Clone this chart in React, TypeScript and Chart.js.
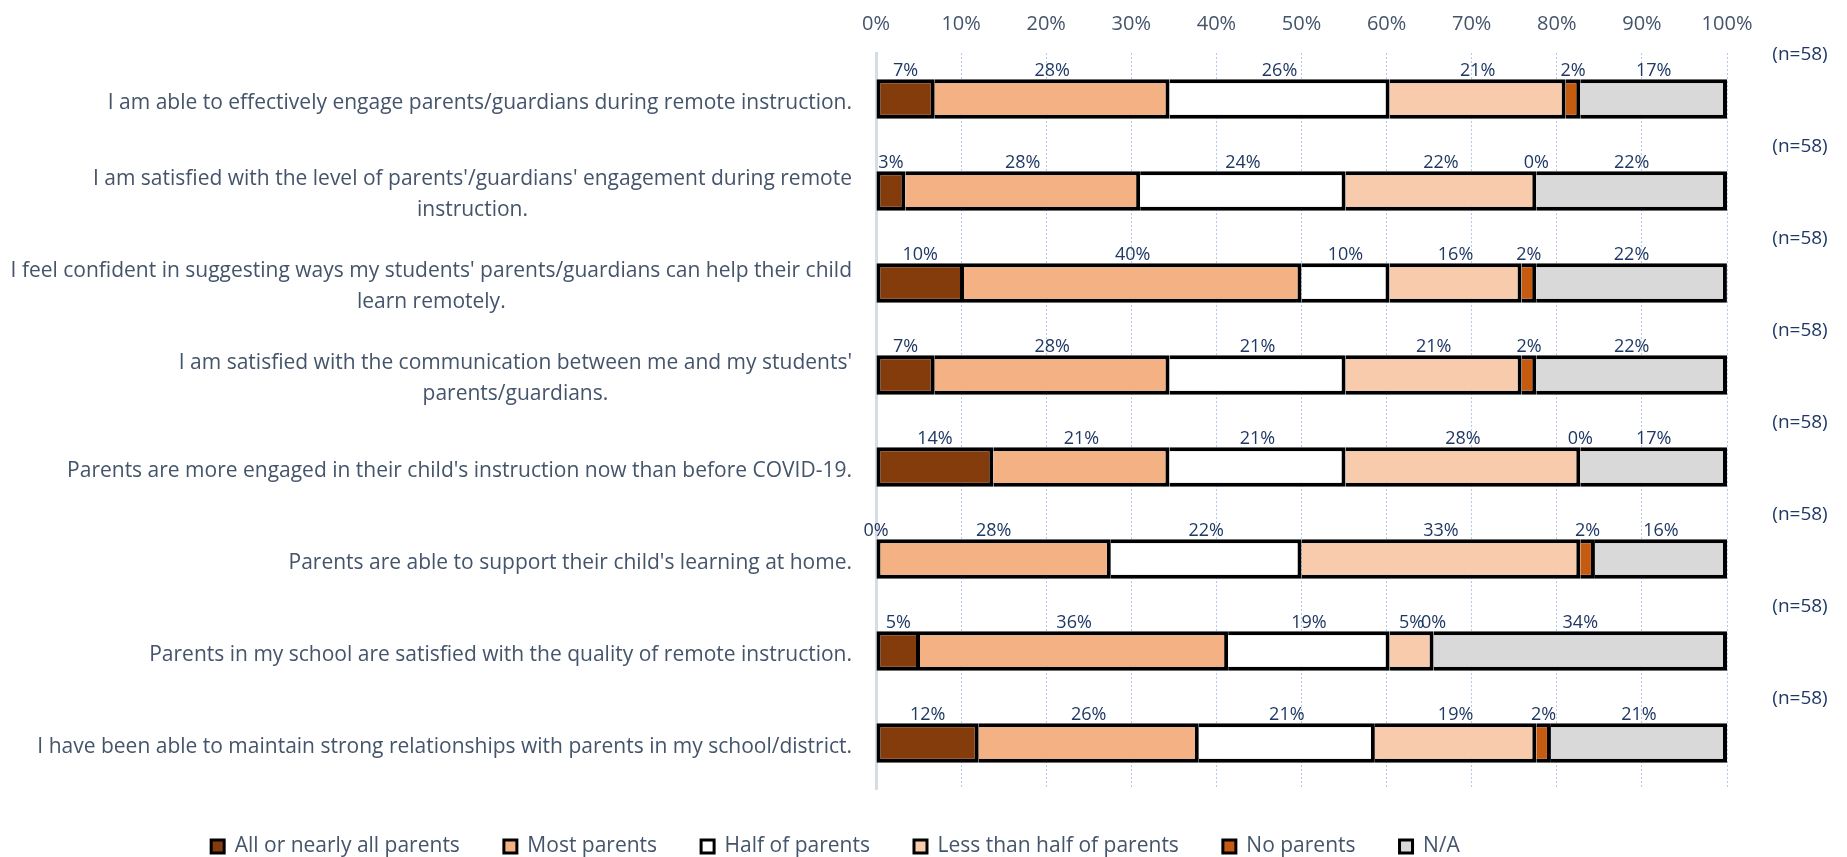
import React, { useEffect, useRef } from "react";
import { Chart, registerables } from "chart.js";

Chart.register(...registerables);

// ---------- data ----------
const categories: string[][] = [
  ["I am able to effectively engage parents/guardians during remote instruction."],
  ["I am satisfied with the level of parents'/guardians' engagement during remote", "instruction."],
  ["I feel confident in suggesting ways my students' parents/guardians can help their child", "learn remotely."],
  ["I am satisfied with the communication between me and my students'", "parents/guardians."],
  ["Parents are more engaged in their child's instruction now than before COVID-19."],
  ["Parents are able to support their child's learning at home."],
  ["Parents in my school are satisfied with the quality of remote instruction."],
  ["I have been able to maintain strong relationships with parents in my school/district."],
];

const sampleSizes = ["(n=58)", "(n=58)", "(n=58)", "(n=58)", "(n=58)", "(n=58)", "(n=58)", "(n=58)"];

const allOrNearlyAll = [6.9, 3.45, 10.34, 6.9, 13.79, 0, 5.17, 12.07];
const mostParents = [27.59, 27.59, 39.66, 27.59, 20.69, 27.59, 36.21, 25.86];
const halfOfParents = [25.86, 24.14, 10.34, 20.69, 20.69, 22.41, 18.97, 20.69];
const lessThanHalf = [20.69, 22.41, 15.52, 20.69, 27.59, 32.76, 5.17, 18.97];
const noParents = [1.72, 0, 1.72, 1.72, 0, 1.72, 0, 1.72];
const notApplicable = [17.24, 22.41, 22.41, 22.41, 17.24, 15.52, 34.48, 20.69];

const seriesNames = [
  "All or nearly all parents",
  "Most parents",
  "Half of parents",
  "Less than half of parents",
  "No parents",
  "N/A",
];
const seriesColors = ["#843C0C", "#F4B183", "#FFFFFF", "#F8CBAD", "#C55A11", "#D9D9D9"];

const xTickValues = [0, 10, 20, 30, 40, 50, 60, 70, 80, 90, 100];

// ---------- style ----------
const FONT_FAMILY = '"Open Sans", sans-serif';
const CATEGORY_SIZE = 21;
const LEGEND_SIZE = 21;
const DATA_SIZE = 18;
const TICK_SIZE = 20;
const N_SIZE = 19;
const LABEL_COLOR = "#44546A";
const DATA_COLOR = "#1F3864";
const BORDER = 4;

const overlayPlugin = {
  id: "overlay",
  afterLayout(chart: any) {
    const lg = chart.legend;
    if (lg) {
      lg.left -= 28;
      lg.right -= 28;
      lg.top += 3;
      lg.bottom += 3;
    }
  },
  afterDatasetsDraw(chart: any) {
    const { ctx, chartArea } = chart;
    const yScale = chart.scales.y;
    ctx.save();
    ctx.textBaseline = "middle";
    ctx.textAlign = "center";

    // category labels: block right-aligned, lines centered within block
    ctx.font = `${CATEGORY_SIZE}px ${FONT_FAMILY}`;
    ctx.fillStyle = LABEL_COLOR;
    const right = chartArea.left - 24;
    const lineH = 31;
    categories.forEach((lines, i) => {
      const cy = yScale.getPixelForValue(i) + 4;
      const blockW = Math.max(...lines.map((l) => ctx.measureText(l).width));
      const cx = right - blockW / 2;
      lines.forEach((l, k) => {
        ctx.fillText(l, cx, cy + (k - (lines.length - 1) / 2) * lineH);
      });
    });

    // data labels above each segment
    ctx.font = `${DATA_SIZE}px ${FONT_FAMILY}`;
    ctx.fillStyle = DATA_COLOR;
    chart.data.datasets.forEach((ds: any, di: number) => {
      const meta = chart.getDatasetMeta(di);
      meta.data.forEach((el: any, j: number) => {
        const p = el.getProps(["x", "base", "y", "height"], true);
        const cx = (p.x + p.base) / 2;
        const top = p.y - p.height / 2;
        ctx.fillText(Math.round(ds.data[j]) + "%", cx, top - 8);
      });
    });

    // sample sizes
    ctx.font = `${N_SIZE}px ${FONT_FAMILY}`;
    sampleSizes.forEach((s, i) => {
      const cy = yScale.getPixelForValue(i);
      ctx.fillText(s, chartArea.right + 73, cy - 44);
    });
    ctx.restore();
  },
};

function firstNonZeroIndex(row: number): number {
  const all = [allOrNearlyAll, mostParents, halfOfParents, lessThanHalf, noParents, notApplicable];
  for (let d = 0; d < all.length; d++) if (all[d][row] > 0) return d;
  return 0;
}

export default function App() {
  const ref = useRef<HTMLCanvasElement | null>(null);

  useEffect(() => {
    if (!ref.current) return;
    const seriesData = [allOrNearlyAll, mostParents, halfOfParents, lessThanHalf, noParents, notApplicable];
    const chart = new Chart(ref.current, {
      type: "bar",
      data: {
        labels: categories.map((c) => c.join(" ")),
        datasets: seriesData.map((d, i) => ({
          label: seriesNames[i],
          data: d,
          backgroundColor: seriesColors[i],
          borderColor: "#000000",
          borderWidth: (ctx: any) => ({
            top: BORDER,
            bottom: BORDER,
            right: BORDER,
            left: ctx.dataIndex !== undefined && firstNonZeroIndex(ctx.dataIndex) === i ? BORDER : 0,
          }),
          borderSkipped: false,
          inflateAmount: 0,
          barPercentage: 0.43,
          categoryPercentage: 1,
        })),
      },
      options: {
        indexAxis: "y",
        responsive: false,
        maintainAspectRatio: false,
        animation: false,
        layout: { padding: { left: 0, right: 120, top: 0, bottom: -7 } },
        scales: {
          x: {
            position: "top",
            stacked: true,
            min: 0,
            max: 100,
            afterBuildTicks: (s: any) => {
              s.ticks = xTickValues.map((v) => ({ value: v }));
            },
            afterFit: (s: any) => {
              s.height = 53;
            },
            ticks: {
              callback: (v: any) => v + "%",
              color: LABEL_COLOR,
              font: { family: FONT_FAMILY, size: TICK_SIZE },
              padding: 17,
              maxRotation: 0,
            },
            grid: {
              color: (ctx: any) => (ctx.tick && ctx.tick.value === 0 ? "rgba(0,0,0,0)" : "#B4C7E7"),
              lineWidth: 1,
              drawTicks: false,
            },
            border: { display: false, dash: [2, 2] },
          },
          y: {
            stacked: true,
            afterFit: (s: any) => {
              s.width = 876;
            },
            ticks: { display: false },
            grid: { display: false, drawTicks: false },
            border: { display: true, color: "#D6DCE5", width: 3 },
          },
        },
        plugins: {
          legend: {
            position: "bottom",
            labels: {
              boxWidth: 13,
              boxHeight: 13,
              padding: 44,
              color: LABEL_COLOR,
              font: { family: FONT_FAMILY, size: LEGEND_SIZE },
              generateLabels: (c: any) =>
                c.data.datasets.map((ds: any, i: number) => ({
                  text: ds.label,
                  fillStyle: ds.backgroundColor,
                  strokeStyle: "#000000",
                  lineWidth: 3,
                  hidden: false,
                  datasetIndex: i,
                  fontColor: LABEL_COLOR,
                })),
            },
          },
          tooltip: { enabled: false },
        },
      } as any,
      plugins: [overlayPlugin],
    });
    return () => chart.destroy();
  }, []);

  return (
    <div style={{ position: "absolute", left: 0, top: 0, width: 1847, height: 857, background: "#fff" }}>
      <canvas ref={ref} width={1847} height={857} />
    </div>
  );
}
